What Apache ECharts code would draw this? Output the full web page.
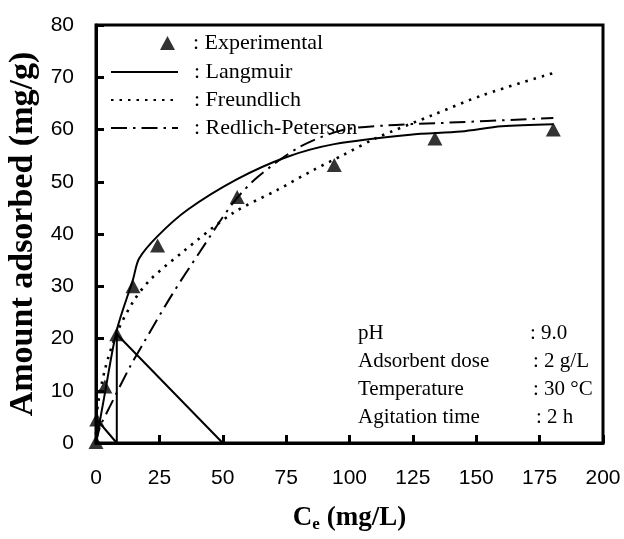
<!DOCTYPE html>
<html>
<head>
<meta charset="utf-8">
<script src="https://cdn.jsdelivr.net/npm/echarts@6/dist/echarts.min.js"></script>
<style>
  html, body { margin: 0; padding: 0; background: #fff; }
  #chart { width: 624px; height: 539px; }
</style>
</head>
<body>
<div id="chart"></div>
<script>
// Equilibrium concentration (mg/L) and uptake (mg/g) of the batch runs
const expCe = [0, 0.3, 3.5, 8.2, 14.6, 24.3, 55.7, 94, 133.7, 180.4];
const expQe = [0.2, 4.5, 10.8, 20.8, 30, 37.8, 47.1, 53.2, 58.3, 60];

// Fitted isotherm curves
const langCe = [0, 3.5, 8.2, 14.6, 17, 24.3, 36, 55.7, 75, 94, 124, 144, 160, 180.4];
const langQe = [0, 9.5, 21.6, 31.3, 35.3, 39.6, 44.6, 50.5, 54.7, 57.2, 59, 59.6, 60.6, 61];

const freCe = [0, 0.3, 3.5, 8.2, 14.6, 21.3, 34.3, 54, 71.4, 85.6, 97.4, 110.7, 133, 152.7, 180.4];
const freQe = [0, 5.5, 14, 21, 27, 31.2, 36.6, 44, 48.4, 52.2, 55.1, 58.4, 62.8, 66.6, 70.8];

const rpCe = [0, 1.6, 5.5, 13.4, 18.7, 30, 41, 54, 64, 80.5, 97.4, 115, 134, 180.4];
const rpQe = [0, 3.1, 7, 14.6, 19.1, 28.4, 36.6, 45.9, 51, 56.7, 59.9, 60.8, 61.2, 62.2];

// Construction segments drawn with the Langmuir pen near the origin
const guideCe = [50, 8.2, 8.2, 0.3];
const guideQe = [0, 20.8, 0, 4.5];

// Axis ranges and steps
const xRange = [0, 200], xStep = 25;
const yRange = [0, 80], yStep = 10;

// Experimental conditions listed in the lower right
const condNames = ['pH', 'Adsorbent dose', 'Temperature', 'Agitation time'];
const condValues = [': 9.0', ': 2 g/L', ': 30 \u00B0C', ': 2 h'];

const pairs = (xs, ys) => xs.map((x, i) => [x, ys[i]]);

const serif = '"Liberation Serif", "Times New Roman", serif';
const sans = '"Liberation Sans", Arial, sans-serif';

const chart = echarts.init(document.getElementById('chart'), null, { renderer: 'canvas' });

const legendText = { fontFamily: serif, fontSize: 22, color: '#000', lineHeight: 28 };

// condition table: label column and value column (value colons slightly staggered)
const valueX = [530, 533, 533, 536];
const condGraphics = [];
condNames.forEach((t, i) => {
  condGraphics.push({
    type: 'text', x: 358, y: 333 + i * 28,
    style: { text: t, font: '21px ' + serif, fill: '#000', verticalAlign: 'middle' }
  });
  condGraphics.push({
    type: 'text', x: valueX[i], y: 333 + i * 28,
    style: { text: condValues[i], font: '21px ' + serif, fill: '#000', verticalAlign: 'middle' }
  });
});

const lineBase = {
  type: 'line', symbol: 'none', showSymbol: false, z: 3,
  itemStyle: { color: '#000' }
};

chart.setOption({
  animation: false,
  backgroundColor: '#fff',
  grid: {
    left: 96, right: 21, top: 25, bottom: 96,
    outerBoundsMode: 'none', containLabel: false,
    show: true, borderColor: '#000', borderWidth: 3
  },
  legend: [
    {
      data: ['Experimental'],
      left: 160, top: 29, orient: 'vertical', padding: 0,
      itemWidth: 15, itemHeight: 14, selectedMode: false,
      formatter: n => ': ' + n,
      textStyle: Object.assign({ padding: [0, 0, 0, 13] }, legendText)
    },
    {
      data: ['Langmuir', 'Freundlich', 'Redlich-Peterson'],
      left: 110, top: 58, orient: 'vertical', padding: 0, itemGap: 0,
      itemWidth: 67, itemHeight: 14, selectedMode: false,
      itemStyle: { opacity: 0 },
      formatter: n => ': ' + n,
      textStyle: Object.assign({ padding: [0, 0, 0, 11] }, legendText)
    }
  ],
  xAxis: {
    type: 'value', min: xRange[0], max: xRange[1], interval: xStep,
    axisLine: { show: true, onZero: false, lineStyle: { color: '#000', width: 3 } },
    axisTick: { show: true, inside: true, length: 8, lineStyle: { color: '#000', width: 3 } },
    axisLabel: { margin: 25, fontFamily: sans, fontSize: 21, color: '#000' },
    splitLine: { show: false },
    name: '{b|C}{s|e}{b| (mg/L)}',
    nameLocation: 'middle', nameGap: 61,
    nameTextStyle: {
      rich: {
        b: { fontFamily: serif, fontWeight: 'bold', fontSize: 27, color: '#000' },
        s: { fontFamily: serif, fontWeight: 'bold', fontSize: 17, color: '#000', padding: [12, 0, 0, 0] }
      }
    }
  },
  yAxis: {
    type: 'value', min: yRange[0], max: yRange[1], interval: yStep,
    axisLine: { show: true, onZero: false, lineStyle: { color: '#000', width: 3 } },
    axisTick: { show: true, inside: true, length: 8, lineStyle: { color: '#000', width: 3 } },
    axisLabel: { margin: 22, fontFamily: sans, fontSize: 21, color: '#000' },
    splitLine: { show: false },
    name: 'Amount adsorbed (mg/g)',
    nameLocation: 'middle', nameGap: 54,
    nameTextStyle: { fontFamily: serif, fontWeight: 'bold', fontSize: 34, color: '#000' }
  },
  series: [
    Object.assign({}, lineBase, {
      name: 'Langmuir', data: pairs(langCe, langQe), smooth: 0.3,
      lineStyle: { color: '#000', width: 2, type: 'solid' }
    }),
    Object.assign({}, lineBase, {
      name: 'Langmuir-guide', data: pairs(guideCe, guideQe), smooth: false,
      lineStyle: { color: '#000', width: 2, type: 'solid' }
    }),
    Object.assign({}, lineBase, {
      name: 'Freundlich', data: pairs(freCe, freQe), smooth: 0.3,
      lineStyle: { color: '#000', width: 2.6, type: [2.5, 6] }
    }),
    Object.assign({}, lineBase, {
      name: 'Redlich-Peterson', data: pairs(rpCe, rpQe), smooth: 0.3,
      lineStyle: { color: '#000', width: 2, type: [16, 6, 2.5, 6] }
    }),
    {
      name: 'Experimental', type: 'scatter', data: pairs(expCe, expQe),
      symbol: 'triangle', symbolSize: [15, 14],
      itemStyle: { color: '#000' }, z: 5, clip: false
    }
  ],
  graphic: condGraphics
});
</script>
</body>
</html>
